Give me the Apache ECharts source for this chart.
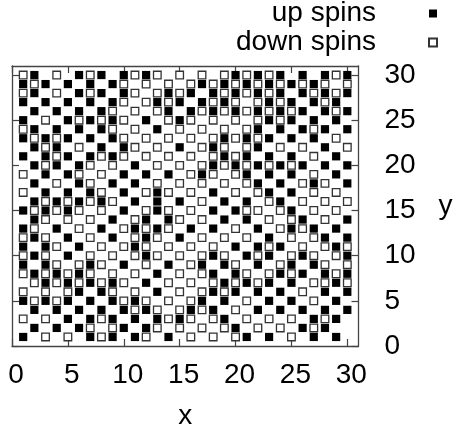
<!DOCTYPE html>
<html><head><meta charset="utf-8">
<style>html,body{margin:0;padding:0;background:#fff}#c{width:453px;height:434px}</style>
<script src="https://cdn.jsdelivr.net/npm/echarts@6/dist/echarts.min.js"></script>
</head><body><div id="c"></div>
<script>
// per row (y): x positions of up spins / down spins
const upRows = {
30:[2,6,8,10,12,20,22,24,26,28,30],
29:[1,3,5,7,9,17,19,21,23,25,27],
28:[2,6,8,10,14,16,18,20,22,24,26,28,30],
27:[1,3,5,7,9,13,15,17,19,23,25,27,29],
26:[2,4,6,8,14,16,18,20,22,24,26,28,30],
25:[1,5,7,9,12,15,23,25,27,29],
24:[2,4,6,8,13,22,24,26,28,30],
23:[1,3,5,7,9,19,21,23,25,27],
22:[2,4,8,10,15,18,22,28],
21:[1,3,5,7,9,19,21,23,25,29],
20:[2,4,6,11,18,20,22,24,26,28,30],
19:[3,5,10,12,14,17,21,23,25,29],
18:[2,6,9,11,22,24,27,30],
17:[3,5,7,10,13,18,23,25],
16:[2,4,6,8,11,13,15,19,21,24],
15:[1,3,5,10,13,18,20,25],
14:[2,9,12,14,19,21,26,30],
13:[1,4,8,11,13,16,18,22,25,27,29],
12:[2,5,9,12,15,23,28,30],
11:[1,3,6,11,20,22,24,29],
10:[2,5,12,18,21,23,26,30],
9:[1,3,7,10,14,17,19,22,25,27],
8:[2,4,6,13,18,20,24,26,28,30],
7:[3,5,7,9,12,19,21,23,25,29],
6:[6,8,13,18,20,22,24,28,30],
5:[1,3,5,7,9,11,17,19,23,25,29],
4:[2,4,6,8,10,12,16,18,22,24,26,28,30],
3:[5,7,9,11,13,15,19,27,29],
2:[2,4,6,10,12,20,26,28],
1:[1,7,9,11,14,21,23,27,29]
};
const downRows = {
30:[1,4,7,11,13,15,17,19,21,23,29],
29:[2,10,12,14,16,18,20,22,24,26,28,30],
28:[1,4,7,11,13,15,19,21,23,27,29],
27:[10,12,14,18,20,22,24,28],
26:[9,11,13,17,19,21,23,25,29],
25:[3,6,8,10,14,16,18,20,22,24],
24:[1,9,11,15,17,19,21,27],
23:[2,4,10,12,14,16,18,20,22,29],
22:[3,6,11,13,17,19,21,24,26,30],
21:[4,8,10,12,14,16,18,20,27],
20:[3,7,9,13,15,17,19,21,23,25],
19:[1,6,8,16,18,20,27],
18:[4,7,13,15,17,19,21,26,28],
17:[1,8,12,14,16,20,22,27,29],
16:[3,5,7,9,17,23,26,28,30],
15:[2,4,6,8,12,14,16,21,22,24,27,29],
14:[3,5,7,11,15,17,23,25,28],
13:[2,6,10,12,14,20,24,26],
12:[1,3,7,11,13,17,19,21,25,27],
11:[4,8,10,12,14,16,18,23,26,28,30],
10:[1,3,7,9,11,13,15,17,19,22,25,27,29],
9:[4,6,8,12,16,20,24,28,30],
8:[1,3,5,7,9,11,15,17,21,23,25,29],
7:[2,4,6,8,10,14,16,18,20,22,27,28,30],
6:[1,3,5,9,11,15,17,19,26],
5:[2,4,10,12,14,16,21,27],
4:[11,13,15,17,20],
3:[1,3,8,14,16,18,21,23,25,28],
2:[7,9,13,15,17,19,22,24,27],
1:[3,5,8,12,16,18,20,25]
};
const tickValues = [0,5,10,15,20,25,30];
const xName = 'x', yName = 'y';
const toPoints = rows => Object.keys(rows).flatMap(y => rows[y].map(x => [x, +y]));

const font = 'Liberation Sans';
const frameAxis = {
  min:0, max:31, interval:5,
  axisLine:{show:true,onZero:false,lineStyle:{color:'#444',width:1.3}},
  axisTick:{show:true,inside:true,length:7,customValues:tickValues,lineStyle:{color:'#444',width:1.2}},
  splitLine:{show:false}
};
const chart = echarts.init(document.getElementById('c'),null,{renderer:'canvas'});
chart.setOption({
  animation:false,
  backgroundColor:'#fff',
  grid:{left:12,right:94.5,top:66,bottom:88,containLabel:false,outerBoundsMode:'none'},
  legend:{
    orient:'vertical',align:'right',right:15,top:-1,padding:0,itemWidth:8,itemHeight:8,itemGap:0,
    textStyle:{fontFamily:font,fontSize:28,lineHeight:24,color:'#000',padding:[5,48,0,0]},
    data:['up spins','down spins']
  },
  xAxis:[
    {...frameAxis,type:'value',position:'bottom',name:xName,nameLocation:'middle',nameGap:56,
     nameTextStyle:{fontFamily:font,fontSize:28,color:'#000'},
     axisLabel:{show:true,customValues:tickValues,margin:15,padding:[0,0,0,8],fontFamily:font,fontSize:28,color:'#000'}},
    {...frameAxis,type:'value',position:'top',axisLabel:{show:false}}
  ],
  yAxis:[
    {...frameAxis,type:'value',position:'right',name:yName,nameLocation:'middle',nameRotate:0,nameGap:80,
     nameTextStyle:{fontFamily:font,fontSize:28,color:'#000'},
     axisLabel:{show:true,customValues:tickValues,margin:26,padding:[2,0,0,0],fontFamily:font,fontSize:28,color:'#000'}},
    {...frameAxis,type:'value',position:'left',axisLabel:{show:false}}
  ],
  series:[
    {name:'up spins',type:'scatter',symbol:'rect',symbolSize:8.2,data:toPoints(upRows),
     itemStyle:{color:'#000',opacity:1},silent:true},
    {name:'down spins',type:'scatter',symbol:'rect',symbolSize:7.6,data:toPoints(downRows),
     itemStyle:{color:'#fff',borderColor:'#333',borderWidth:1.3,opacity:1},silent:true}
  ]
});
</script></body></html>
